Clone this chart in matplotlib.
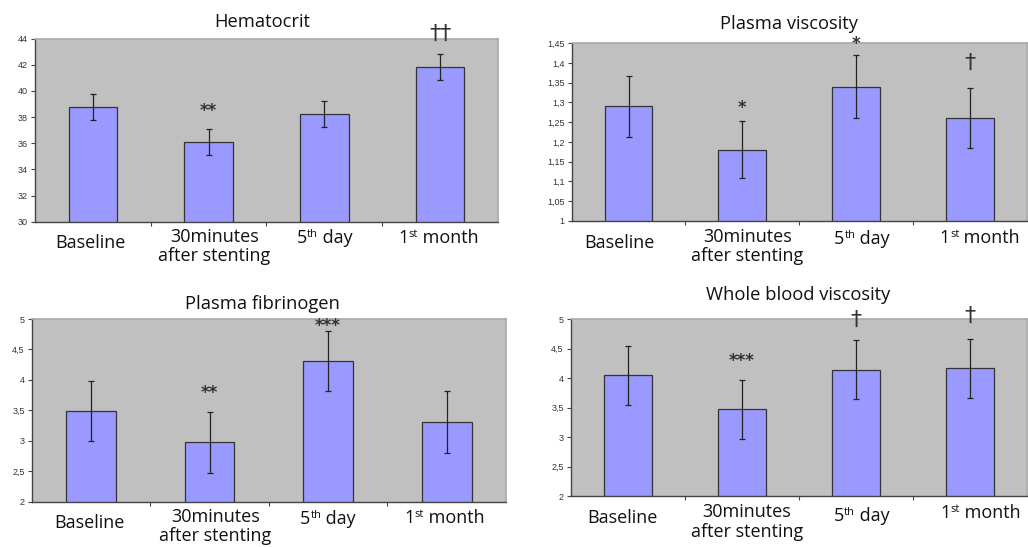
import matplotlib
matplotlib.use("Agg")
import matplotlib.pyplot as plt
from matplotlib.offsetbox import TextArea, HPacker, AnnotationBbox

plt.rcParams["font.family"] = ["Open Sans", "DejaVu Sans"]

# ---- data -------------------------------------------------------------
# each category label: (main text, superscript, trailing text)
categories = [("Baseline", "", ""),
              ("30minutes\nafter stenting", "", ""),
              ("5", "th", " day"),
              ("1", "st", " month")]

hct_mean = [38.75, 36.1, 38.22, 41.83]
hct_err = [1.0, 1.0, 1.0, 1.02]
hct_marks = ["", "**", "", "\u2020\u2020"]
hct_mark_y = [0, 38.5, 0, 44.4]
hct_ticks = [30, 32, 34, 36, 38, 40, 42, 44]
hct_ticklabels = ["30", "32", "34", "36", "38", "40", "42", "44"]

pv_mean = [1.29, 1.18, 1.34, 1.26]
pv_err = [0.077, 0.072, 0.08, 0.076]
pv_marks = ["", "*", "*", "\u2020"]
pv_mark_y = [0, 1.285, 1.448, 1.40]
pv_ticks = [1.0, 1.05, 1.1, 1.15, 1.2, 1.25, 1.3, 1.35, 1.4, 1.45]
pv_ticklabels = ["1", "1,05", "1,1", "1,15", "1,2", "1,25", "1,3",
                 "1,35", "1,4", "1,45"]

fib_mean = [3.49, 2.975, 4.316, 3.308]
fib_err = [0.5, 0.5, 0.49, 0.507]
fib_marks = ["", "**", "***", ""]
fib_mark_y = [0, 3.78, 4.89, 0]
fib_ticks = [2, 2.5, 3, 3.5, 4, 4.5, 5]
fib_ticklabels = ["2", "2,5", "3", "3,5", "4", "4,5", "5"]

wbv_mean = [4.045, 3.469, 4.136, 4.164]
wbv_err = [0.5, 0.5, 0.5, 0.5]
wbv_marks = ["", "***", "\u2020", "\u2020"]
wbv_mark_y = [0, 4.29, 4.99, 5.05]
wbv_ticks = [2, 2.5, 3, 3.5, 4, 4.5, 5]
wbv_ticklabels = ["2", "2,5", "3", "3,5", "4", "4,5", "5"]

# ---- layout -----------------------------------------------------------
panels = [
    dict(title="Hematocrit", mean=hct_mean, err=hct_err, marks=hct_marks,
         mark_y=hct_mark_y, ticks=hct_ticks, ticklabels=hct_ticklabels,
         rect=[0.034, 0.5947, 0.4504, 0.3346], title_xy=(262, 22),
         lab_dy=[-21, -25, -16, -16], lab_dx=[-2, 6, 0, -2]),
    dict(title="Plasma viscosity", mean=pv_mean, err=pv_err, marks=pv_marks,
         mark_y=pv_mark_y, ticks=pv_ticks, ticklabels=pv_ticklabels,
         rect=[0.5561, 0.5965, 0.4426, 0.3243], title_xy=(789, 24),
         lab_dy=[-22, -26, -18, -17], lab_dx=[-9, 5, 6, 10]),
    dict(title="Plasma fibrinogen", mean=fib_mean, err=fib_err,
         marks=fib_marks, mark_y=fib_mark_y, ticks=fib_ticks,
         ticklabels=fib_ticklabels,
         rect=[0.0308, 0.0828, 0.4614, 0.334], title_xy=(262, 304),
         lab_dy=[-21, -25, -17, -16], lab_dx=[-2, 6, 0, -2]),
    dict(title="Whole blood viscosity", mean=wbv_mean, err=wbv_err,
         marks=wbv_marks, mark_y=wbv_mark_y, ticks=wbv_ticks,
         ticklabels=wbv_ticklabels,
         rect=[0.5552, 0.0932, 0.4439, 0.3236], title_xy=(798, 295),
         lab_dy=[-22, -26, -20, -17], lab_dx=[-5, 5, 6, 10]),
]

W, H = 1028, 547
fig = plt.figure(figsize=(W / 100, H / 100), dpi=100)
fig.patch.set_facecolor("white")

bar_color = "#9999FF"
dark = "#333333"
label_color = "#111111"
label_size = 13
sup_size = 8
x = list(range(len(categories)))

for p in panels:
    ax = fig.add_axes(p["rect"])
    ax.set_facecolor("#C0C0C0")
    ax.bar(x, p["mean"], width=0.42, color=bar_color, edgecolor=dark,
           linewidth=0.9, zorder=2)
    ax.errorbar(x, p["mean"], yerr=p["err"], fmt="none", ecolor="#222222",
                elinewidth=0.9, capsize=2.3, capthick=0.9, zorder=3)
    ax.set_xlim(-0.5, 3.5)
    ax.set_ylim(p["ticks"][0], p["ticks"][-1])
    ax.set_yticks(p["ticks"])
    ax.set_yticklabels(p["ticklabels"], fontfamily="Liberation Sans",
                       fontsize=6.5, color=dark)
    ax.set_xticks([0.5, 1.5, 2.5])
    ax.set_xticklabels([])
    ax.tick_params(axis="both", direction="out", length=3, width=0.8,
                   color="#444444", pad=2)
    for s in ("left", "bottom"):
        ax.spines[s].set_color("#444444")
        ax.spines[s].set_linewidth(1.0)
    for s in ("top", "right"):
        ax.spines[s].set_color("#A8A8A8")
        ax.spines[s].set_linewidth(1.2)

    for i, (main, sup, tail) in enumerate(categories):
        offset = (p["lab_dx"][i], p["lab_dy"][i])
        if not sup:
            ax.annotate(main, xy=(x[i], 0), xycoords=("data", "axes fraction"),
                        xytext=offset, textcoords="offset pixels",
                        ha="center", va="center", fontsize=label_size,
                        color=label_color, linespacing=1.1,
                        annotation_clip=False)
        else:
            big = dict(fontsize=label_size, color=label_color)
            small = dict(fontsize=sup_size, color=label_color)
            pack = HPacker(children=[TextArea(main, textprops=big),
                                     TextArea(sup, textprops=small),
                                     TextArea(tail, textprops=big)],
                           align="top", pad=0, sep=0)
            ab = AnnotationBbox(pack, (x[i], 0),
                                xycoords=("data", "axes fraction"),
                                xybox=offset, boxcoords="offset pixels",
                                box_alignment=(0.5, 0.5), frameon=False,
                                annotation_clip=False)
            ax.add_artist(ab)

    # significance marks above the bars
    for i, m in enumerate(p["marks"]):
        if m:
            is_dagger = "\u2020" in m
            ax.text(x[i], p["mark_y"][i], m, ha="center", va="center",
                    fontsize=16 if is_dagger else 12, color=dark,
                    family="DejaVu Sans",
                    fontweight="normal" if is_dagger else "bold",
                    clip_on=False, zorder=4)

    fig.text(p["title_xy"][0] / W, 1 - p["title_xy"][1] / H, p["title"],
             ha="center", va="center", fontsize=13.2, color=label_color)

fig.savefig("out.png", dpi=100)
